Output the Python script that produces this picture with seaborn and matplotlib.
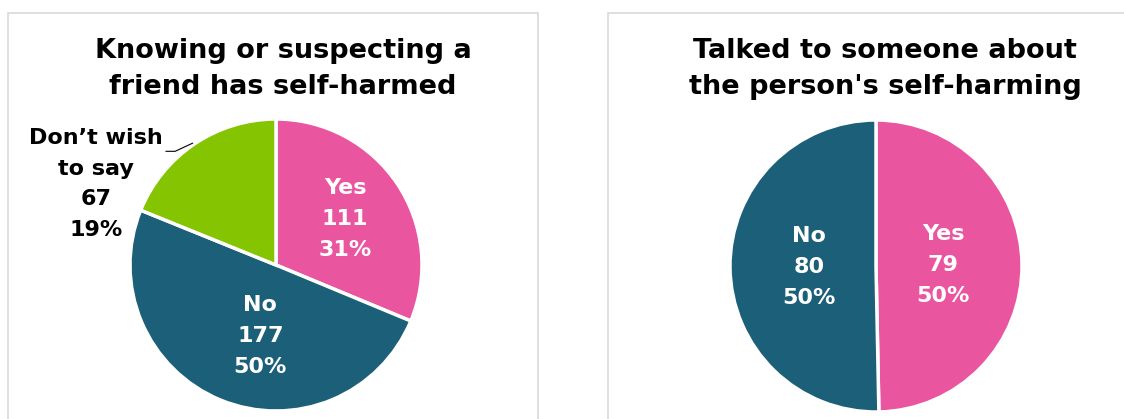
import numpy as np
import matplotlib
matplotlib.use("Agg")
import matplotlib.pyplot as plt
import matplotlib.patches as mpatches
import seaborn as sns

# ---- data ----
left_title = "Knowing or suspecting a\nfriend has self-harmed"
left_labels = ["Yes", "No", "Don\u2019t wish\nto say"]
left_values = [111, 177, 67]
left_pcts = ["31%", "50%", "19%"]

right_title = "Talked to someone about\nthe person's self-harming"
right_labels = ["Yes", "No"]
right_values = [79, 80]
right_pcts = ["50%", "50%"]

PINK = "#E9559F"
TEAL = "#1C5F78"
GREEN = "#84C400"
left_colors = [PINK, TEAL, GREEN]
right_colors = [PINK, TEAL]

sns.set_theme(style="white")
plt.rcParams["font.family"] = ["DejaVu Sans"]

W, H = 1124, 419
fig = plt.figure(figsize=(W / 100, H / 100), dpi=100)

# panel borders (in pixels -> figure fraction)
def px_rect(x0, y0, x1, y1):
    return mpatches.Rectangle((x0 / W, 1 - y1 / H), (x1 - x0) / W, (y1 - y0) / H,
                              transform=fig.transFigure, fill=False,
                              edgecolor="#D9D9D9", lw=1.2, zorder=0)
fig.patches.append(px_rect(8, 13, 538, 430))
fig.patches.append(px_rect(608, 13, 1140, 430))

R_PX = 146
PAD = 1.04

def make_axes(cx, cy):
    half = R_PX * PAD
    ax = fig.add_axes([(cx - half) / W, (H - cy - half) / H, 2 * half / W, 2 * half / H])
    return ax

def finish(ax):
    ax.set_xlim(-PAD, PAD)
    ax.set_ylim(-PAD, PAD)
    ax.set_aspect("equal")
    ax.axis("off")

LBL = dict(fontsize=16, fontweight="bold", linespacing=1.68, ha="center", va="center")
TTL = dict(fontsize=19.5, fontweight="bold", linespacing=1.5, ha="center", va="center",
           color="black")

# ---- left pie ----
axL = make_axes(276, 265)
wedgesL, _ = axL.pie(left_values, colors=left_colors, startangle=90, counterclock=False,
                     wedgeprops=dict(edgecolor="white", linewidth=2.5))
finish(axL)
label_r = [0.57, 0.50, None]
angle_shift = [0, 10, 0]
for i, w in enumerate(wedgesL):
    mid = np.deg2rad((w.theta1 + w.theta2) / 2 + angle_shift[i])
    txt = f"{left_labels[i]}\n{left_values[i]}\n{left_pcts[i]}"
    if label_r[i] is not None:
        axL.text(label_r[i] * np.cos(mid), label_r[i] * np.sin(mid), txt,
                 color="white", **LBL)
    else:
        axL.annotate(txt, xy=(-0.57, 0.835), xytext=(-1.235, 0.555),
                     color="black", annotation_clip=False,
                     arrowprops=dict(arrowstyle="-", color="black", lw=0.8,
                                     shrinkA=0, shrinkB=0, relpos=(0.95, 0.79),
                                     connectionstyle="angle,angleA=0,angleB=25,rad=0"),
                     **LBL)
fig.text(283 / W, 1 - 69 / H, left_title, **TTL)

# ---- right pie ----
axR = make_axes(876, 266)
wedgesR, _ = axR.pie(right_values, colors=right_colors, startangle=90, counterclock=False,
                     wedgeprops=dict(edgecolor="white", linewidth=2.5))
finish(axR)
for i, w in enumerate(wedgesR):
    mid = np.deg2rad((w.theta1 + w.theta2) / 2)
    txt = f"{right_labels[i]}\n{right_values[i]}\n{right_pcts[i]}"
    axR.text(0.46 * np.cos(mid), 0.46 * np.sin(mid), txt, color="white", **LBL)
fig.text(885 / W, 1 - 69 / H, right_title, **TTL)

fig.savefig("out.png", dpi=100)
